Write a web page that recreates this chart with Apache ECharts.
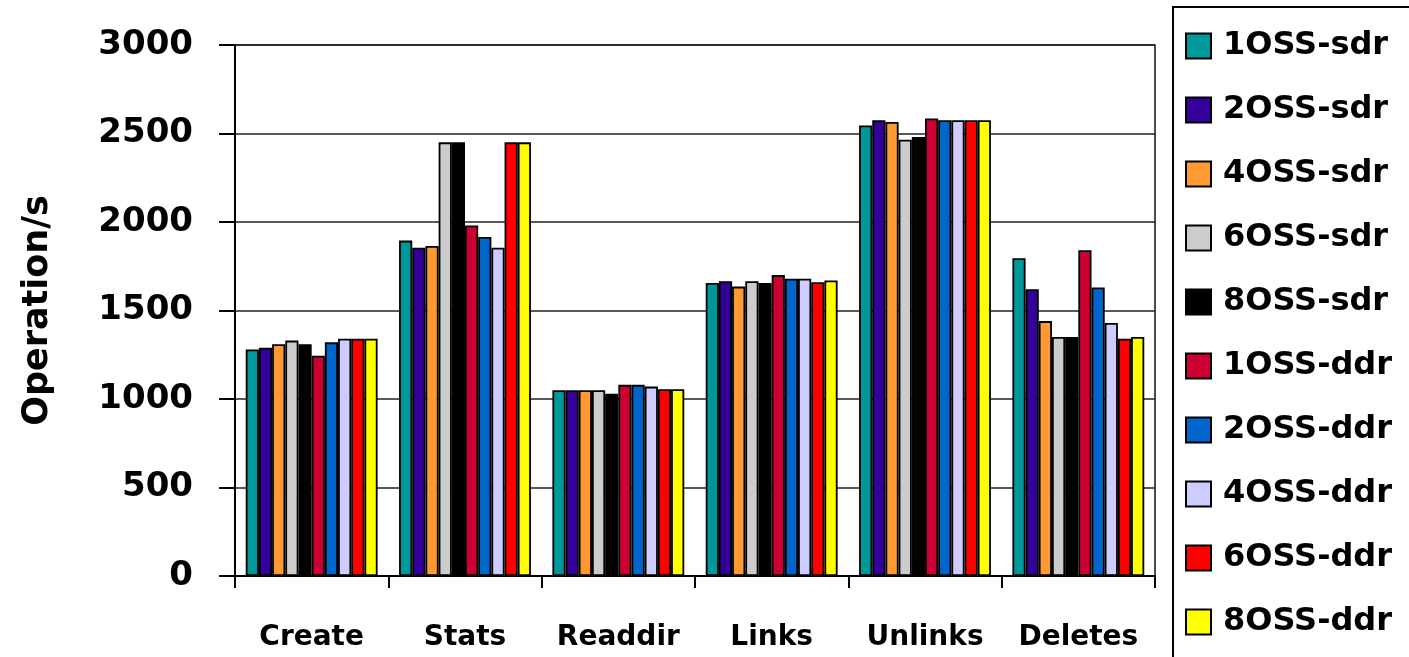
<!DOCTYPE html>
<html>
<head>
<meta charset="utf-8">
<script src="https://cdn.jsdelivr.net/npm/echarts@6/dist/echarts.min.js"></script>
<style>
  html, body { margin: 0; padding: 0; background: #fff; }
  #chart { width: 1409px; height: 657px; }
</style>
</head>
<body>
<div id="chart"></div>
<script>
// Metadata operation throughput per configuration
const categories = ['Create', 'Stats', 'Readdir', 'Links', 'Unlinks', 'Deletes'];
const seriesNames = ['1OSS-sdr', '2OSS-sdr', '4OSS-sdr', '6OSS-sdr', '8OSS-sdr',
                     '1OSS-ddr', '2OSS-ddr', '4OSS-ddr', '6OSS-ddr', '8OSS-ddr'];
const seriesColors = ['#009999', '#330099', '#FF9933', '#CCCCCC', '#000000',
                      '#CC0033', '#0066CC', '#CCCCFF', '#FF0000', '#FFFF00'];

const oss1Sdr = [1280, 1895, 1050, 1655, 2545, 1795];
const oss2Sdr = [1290, 1855, 1050, 1665, 2575, 1620];
const oss4Sdr = [1310, 1865, 1050, 1635, 2565, 1440];
const oss6Sdr = [1330, 2450, 1050, 1665, 2465, 1350];
const oss8Sdr = [1310, 2450, 1030, 1655, 2480, 1350];
const oss1Ddr = [1245, 1980, 1080, 1700, 2585, 1840];
const oss2Ddr = [1320, 1915, 1080, 1680, 2575, 1630];
const oss4Ddr = [1340, 1855, 1070, 1680, 2575, 1430];
const oss6Ddr = [1340, 2450, 1055, 1660, 2575, 1340];
const oss8Ddr = [1340, 2450, 1055, 1670, 2575, 1350];

const seriesValues = [oss1Sdr, oss2Sdr, oss4Sdr, oss6Sdr, oss8Sdr,
                      oss1Ddr, oss2Ddr, oss4Ddr, oss6Ddr, oss8Ddr];
const yTicks = { min: 0, max: 3000, interval: 500 };

const FONT = '"Comic Sans MS", "DejaVu Sans", sans-serif';

const chart = echarts.init(document.getElementById('chart'), null, { renderer: 'canvas' });

chart.setOption({
  animation: false,
  backgroundColor: '#ffffff',
  grid: {
    left: 235, right: 254, top: 45, bottom: 81,
    show: true, borderColor: '#111', borderWidth: 1.5, backgroundColor: 'transparent'
  },
  legend: {
    orient: 'vertical',
    left: 1185, top: 30,
    padding: 0,
    itemWidth: 25, itemHeight: 25, itemGap: 32,
    icon: 'rect',
    data: seriesNames,
    textStyle: {
      fontFamily: FONT, fontWeight: 'bold', fontSize: 32, color: '#000',
      padding: [0, 0, 0, 7]
    }
  },
  graphic: [{
    type: 'rect',
    shape: { x: 1173, y: 7, width: 300, height: 700 },
    style: { fill: 'none', stroke: '#000', lineWidth: 2 },
    z: 10
  }],
  xAxis: {
    type: 'category',
    data: categories,
    axisLine: { lineStyle: { color: '#000', width: 2 } },
    axisTick: { show: true, interval: 0, length: 12, lineStyle: { color: '#000', width: 2 } },
    axisLabel: { interval: 0, fontFamily: FONT, fontWeight: 'bold', fontSize: 28, color: '#000', margin: 48 }
  },
  yAxis: {
    type: 'value',
    min: yTicks.min, max: yTicks.max, interval: yTicks.interval,
    name: 'Operation/s',
    nameLocation: 'middle',
    nameGap: 180,
    nameTextStyle: { fontFamily: FONT, fontWeight: 'bold', fontSize: 35, color: '#000' },
    axisLine: { show: true, lineStyle: { color: '#000', width: 2 } },
    axisTick: { show: true, length: 16, lineStyle: { color: '#000', width: 2 } },
    axisLabel: {
      fontFamily: FONT, fontWeight: 'bold', fontSize: 34, color: '#000', margin: 42,
      formatter: (v) => String(v)
    },
    splitLine: { show: true, lineStyle: { color: '#222', width: 1.5 } }
  },
  series: seriesNames.map((name, i) => ({
    name: name,
    type: 'bar',
    data: seriesValues[i],
    barGap: '0%',
    barCategoryGap: '14%',
    itemStyle: { color: seriesColors[i], borderColor: '#000', borderWidth: 1.8 }
  }))
});
</script>
</body>
</html>
